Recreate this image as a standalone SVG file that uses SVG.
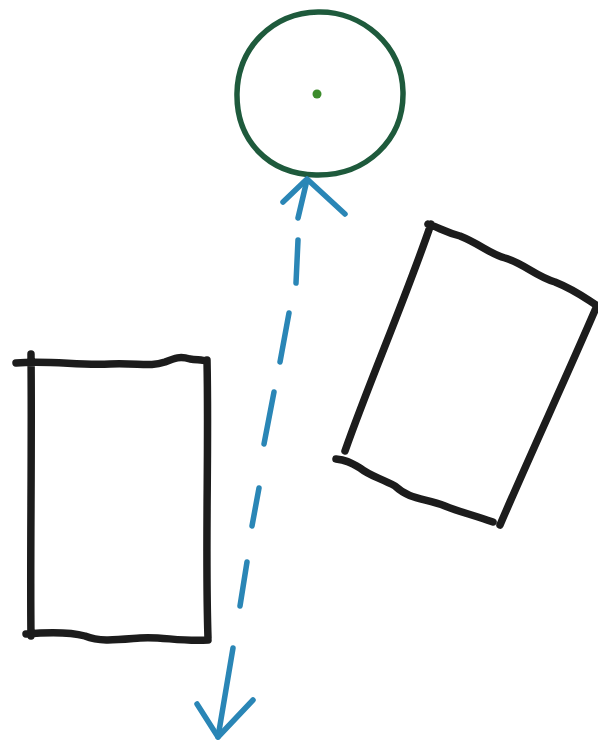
<svg xmlns="http://www.w3.org/2000/svg" width="598" height="747" viewBox="0 0 598 747">
<style>
.box{fill:none;stroke:#1c1c1c;stroke-width:7.5;stroke-linecap:round;stroke-linejoin:round}
.ring{fill:none;stroke:#1e5a3c;stroke-width:5.5}
.conn{fill:none;stroke:#2a86b6;stroke-width:5.5;stroke-linecap:round;stroke-linejoin:round}
</style>
<rect width="598" height="747" fill="#ffffff"/>
<g id="circle-node">
<path class="ring" d="M318,12 C362,11 402,45 403,92 C404,140 366,176 316,175 C268,174 236,140 237,93 C238,48 272,13 318,12 Z"/>
<circle cx="317" cy="94" r="4.5" fill="#3c8c2c"/>
</g>
<g id="left-rect">
<path class="box" d="M16,363 C50,360 80,366 110,364 C140,363 150,367 165,362 C175,358 180,356 190,359 C198,360 203,360 206,361 M207,360 C209,450 205,550 208,638 M208,640 C180,642 160,636 140,638 C115,640 100,642 85,636 C70,632 50,632 26,634 M31,354 C32,450 30,560 31,636"/>
</g>
<g id="right-rect">
<path class="box" d="M428,224 C440,228 445,232 460,236 C480,244 490,254 505,258 C525,264 535,276 555,282 C575,290 585,298 596,305 M596,308 C565,380 530,455 500,525 M493,522 C470,514 460,512 445,506 C425,498 410,500 395,486 C380,478 370,476 360,468 C350,462 345,460 336,459 M431,224 C405,300 370,380 345,451"/>
</g>
<g id="connectors">
<path class="conn" d="M307,180 L298,218 M298,240 L296,283 M289,313 L280,362 M274,392 L264,444 M259,488 L252,526 M247,562 L240,606 M233,648 L218,737"/>
<path class="conn" d="M283,202 L307,179 L345,214"/>
<path class="conn" d="M197,704 L218,737 L253,700"/>
</g>
</svg>
